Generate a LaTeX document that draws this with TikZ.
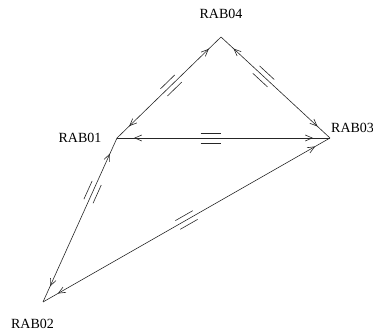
\documentclass[tikz,border=0pt]{standalone}
\usepackage{fontspec}
\setmainfont{Liberation Serif}
\usetikzlibrary{arrows.meta,decorations.markings}
\tikzset{
  barb/.tip={Straight Barb[length=7pt,width=6pt]},
  link/.style={draw=black!85, line width=0.6pt, postaction={decorate},
    decoration={markings,
      mark=at position 17pt with {\arrowreversed[black!85,line width=0.6pt]{barb}},
      mark=at position -17pt with {\arrow[black!85,line width=0.6pt]{barb}},
      mark=at position #1 with {\draw[black!85,line width=0.6pt] (-10pt,5pt)--(10pt,5pt) (-10pt,-5pt)--(10pt,-5pt);}}},
  lbl/.style={inner sep=0pt, font=\fontsize{14}{16}\selectfont},
}
\begin{document}
\begin{tikzpicture}[x=1pt,y=-1pt]
\useasboundingbox (0,0) rectangle (373,331);
\coordinate (v04) at (221,37);
\coordinate (v01) at (117,138);
\coordinate (v03) at (330,138);
\coordinate (v02) at (43,302);
\node[lbl] (l04) at (221,14) {RAB04};
\node[lbl] (l01) at (80,138) {RAB01};
\node[lbl,anchor=west] (l03) at (331,128) {RAB03};
\node[lbl] (l02) at (32.5,324) {RAB02};
\draw[link=0.52] (v01) -- (v04);
\draw[link=0.39] (v04) -- (v03);
\draw[link=0.44] (v01) -- (v03);
\draw[link=0.33] (v01) -- (v02);
\draw[link=0.5] (v02) -- (v03);
\end{tikzpicture}
\end{document}
